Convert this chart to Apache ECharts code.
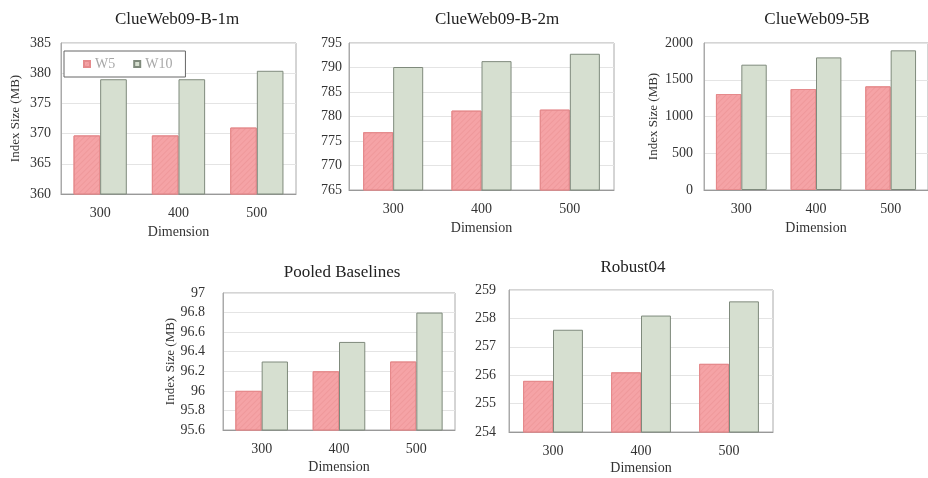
<!DOCTYPE html>
<html>
<head>
<meta charset="utf-8">
<script src="https://cdn.jsdelivr.net/npm/echarts@6/dist/echarts.min.js"></script>
<style>
  html, body { margin: 0; padding: 0; background: #fff; }
  #chart { width: 928px; height: 478px; }
</style>
</head>
<body>
<div id="chart"></div>
<script>
// Index size (MB) for window sizes W5 / W10 across embedding dimensions
const dimensions = ['300', '400', '500'];
const seriesNames = ['W5', 'W10'];

const panelTitles = ['ClueWeb09-B-1m', 'ClueWeb09-B-2m', 'ClueWeb09-5B', 'Pooled Baselines', 'Robust04'];

const w5_cw1m = [369.7, 369.7, 371.0];
const w10_cw1m = [379.0, 379.0, 380.4];

const w5_cw2m = [776.8, 781.2, 781.4];
const w10_cw2m = [790.1, 791.3, 792.8];

const w5_cw5b = [1306, 1374, 1410];
const w10_cw5b = [1705, 1804, 1900];

const w5_pooled = [96.0, 96.2, 96.3];
const w10_pooled = [96.3, 96.5, 96.8];

const w5_robust = [255.8, 256.1, 256.4];
const w10_robust = [257.6, 258.1, 258.6];

// y-axis ranges: [min, max, interval]
const yRanges = [
  [360, 385, 5],
  [765, 795, 5],
  [0, 2000, 500],
  [95.6, 97, 0.2],
  [254, 259, 1]
];

const panelData = [
  [w5_cw1m, w10_cw1m],
  [w5_cw2m, w10_cw2m],
  [w5_cw5b, w10_cw5b],
  [w5_pooled, w10_pooled],
  [w5_robust, w10_robust]
];

const showYName = [true, false, true, true, false];

// panel placement in pixels
const grids = [
  { left: 61,  top: 43,  width: 235, height: 151 },
  { left: 349, top: 43,  width: 265, height: 147 },
  { left: 704, top: 43,  width: 229, height: 147 },
  { left: 223, top: 293, width: 232, height: 137 },
  { left: 509, top: 290, width: 264, height: 142 }
];
const titlePos = [
  { x: 172, y: 6 },
  { x: 492, y: 6 },
  { x: 812, y: 6 },
  { x: 337, y: 259 },
  { x: 628, y: 254 }
];
const yLabelMargin = [10, 7, 11, 18, 13];
const yNameGap = [39, 0, 44, 41, 0];
const xNameGap = [31, 31, 31, 30, 29];

const FONT = "'Liberation Serif', 'Times New Roman', serif";

const w5Style = {
  color: '#f5a3a6',
  borderColor: '#e58a8c',
  borderWidth: 1,
  decal: {
    symbol: 'rect',
    symbolSize: 1,
    dashArrayX: [1, 0],
    dashArrayY: [1, 3],
    rotation: -Math.PI / 4,
    color: 'rgba(214, 110, 112, 0.2)'
  }
};
const w10Style = {
  color: '#d6dfd0',
  borderColor: '#7f8a7c',
  borderWidth: 1
};

const chart = echarts.init(document.getElementById('chart'), null, { renderer: 'canvas' });

const option = {
  animation: false,
  aria: { enabled: false, decal: { show: true } },
  backgroundColor: '#fff',
  title: panelTitles.map((t, i) => ({
    text: t,
    left: titlePos[i].x,
    top: titlePos[i].y,
    textAlign: 'center',
    textStyle: { fontFamily: FONT, fontSize: 17, fontWeight: 'normal', color: '#222' }
  })),
  legend: {
    data: seriesNames,
    left: 64,
    top: 51,
    padding: [6, 13, 6, 19],
    itemWidth: 6,
    itemHeight: 6,
    itemGap: 18,
    icon: 'rect',
    backgroundColor: '#fff',
    borderColor: '#666',
    borderWidth: 1,
    textStyle: { fontFamily: FONT, fontSize: 14, color: '#a8a8a8' },
    z: 10
  },
  grid: grids.map(g => Object.assign({ show: true, borderColor: '#aaa', borderWidth: 1, backgroundColor: '#fff', containLabel: false }, g)),
  xAxis: grids.map((g, i) => ({
    type: 'category',
    gridIndex: i,
    data: dimensions,
    name: 'Dimension',
    nameLocation: 'middle',
    nameGap: xNameGap[i],
    nameTextStyle: { fontFamily: FONT, fontSize: 14, color: '#333' },
    axisLine: { lineStyle: { color: '#999' } },
    axisTick: { show: false },
    axisLabel: { fontFamily: FONT, fontSize: 14, color: '#333', margin: 12 },
    splitLine: { show: false }
  })),
  yAxis: grids.map((g, i) => ({
    type: 'value',
    gridIndex: i,
    min: yRanges[i][0],
    max: yRanges[i][1],
    interval: yRanges[i][2],
    name: showYName[i] ? 'Index Size (MB)' : '',
    nameLocation: 'middle',
    nameGap: yNameGap[i],
    nameTextStyle: { fontFamily: FONT, fontSize: 13, color: '#333' },
    axisLine: { show: true, lineStyle: { color: '#aaa' } },
    axisTick: { show: false },
    axisLabel: {
      fontFamily: FONT, fontSize: 14, color: '#333', margin: yLabelMargin[i],
      formatter: v => String(+v.toFixed(1))
    },
    splitLine: { show: true, lineStyle: { color: '#e4e4e4' } }
  })),
  series: []
};

panelData.forEach((pair, i) => {
  option.series.push({
    name: seriesNames[0],
    type: 'bar',
    xAxisIndex: i,
    yAxisIndex: i,
    data: pair[0],
    barGap: '0%',
    barCategoryGap: '32%',
    itemStyle: w5Style
  });
  option.series.push({
    name: seriesNames[1],
    type: 'bar',
    xAxisIndex: i,
    yAxisIndex: i,
    data: pair[1],
    barGap: '0%',
    barCategoryGap: '32%',
    itemStyle: w10Style
  });
});

chart.setOption(option);
</script>
</body>
</html>
